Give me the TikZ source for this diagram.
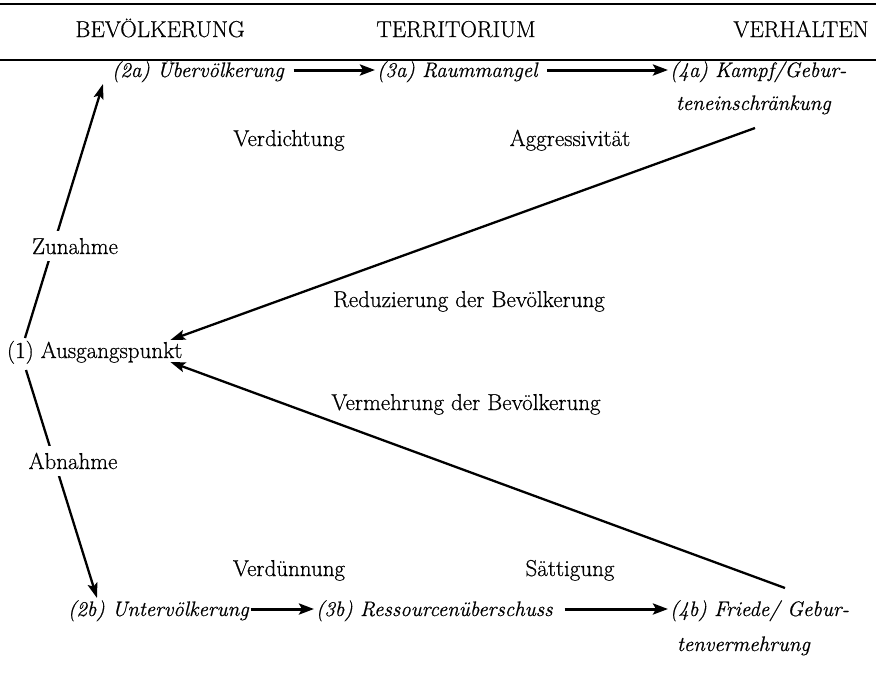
\documentclass[tikz,border=0pt]{standalone}
\usepackage{fontspec}
\setmainfont{Latin Modern Roman}[UprightFeatures={FakeBold=0.6},ItalicFeatures={FakeBold=0.6}]
\usetikzlibrary{arrows.meta}
\begin{document}
\begin{tikzpicture}[x=1pt,y=-1pt,
  every node/.style={inner sep=0pt, outer sep=0pt, font=\fontsize{23}{27}\selectfont},
  lbl/.style={anchor=base},
  blank/.style={anchor=base, fill=white, inner xsep=2pt, inner ysep=7pt},
  lft/.style={anchor=base west},
  itl/.style={anchor=base west, font=\fontsize{21}{25}\selectfont\itshape},
  rule/.style={line width=1.5pt},
  diag/.style={line width=2.3pt, -{Stealth[length=15pt,width=10pt,inset=3pt]}},
  horiz/.style={line width=3pt, -{Stealth[length=15pt,width=11pt,inset=3pt]}}]
\useasboundingbox (0,0) rectangle (876,673);
\draw[rule] (0,4) -- (876,4);
\draw[rule] (0,60) -- (876,60);
% headers
\node[lbl] (hb) at (160,37) {BEVÖLKERUNG};
\node[lbl] (ht) at (456,37) {TERRITORIUM};
\node[lbl] (hv) at (801,37) {VERHALTEN};
% top row
\node[itl] (n2a) at (112,77) {(2a) Übervölkerung};
\node[itl] (n3a) at (377,77) {(3a) Raummangel};
\node[itl] (n4a) at (670,77) {(4a) Kampf/Gebur-};
\node[itl] (n4a2) at (676,110) {teneinschränkung};
% labels
\node[lbl] (ldi) at (289,146) {Verdichtung};
\node[lbl] (lag) at (570,146) {Aggressivität};
\node[lbl] (lre) at (469,307) {Reduzierung der Bevölkerung};
\node[lft] (n1) at (7,358) {(1) Ausgangspunkt};
\node[lbl] (lve) at (466,410) {Vermehrung der Bevölkerung};
\node[lbl] (ldu) at (289,576) {Verdünnung};
\node[lbl] (lsa) at (570,576) {Sättigung};
% bottom row
\node[itl] (n2b) at (68,616) {(2b) Untervölkerung};
\node[itl] (n3b) at (316,616) {(3b) Ressourcenüberschuss};
\node[itl] (n4b) at (670,616) {(4b) Friede/ Gebur-};
\node[itl] (n4b2) at (677,651) {tenvermehrung};
% horizontal arrows
\draw[horiz, shorten <=10pt, shorten >=2pt] ([yshift=7pt]n2a.base east) -- ([yshift=7pt]n3a.base west);
\draw[horiz, shorten <=10pt, shorten >=2pt] ([yshift=7pt]n3a.base east) -- ([yshift=7pt]n4a.base west);
\draw[horiz, shorten <=2pt, shorten >=2pt] ([yshift=7pt]n2b.base east) -- ([yshift=7pt]n3b.base west);
\draw[horiz, shorten <=12pt, shorten >=2pt] ([yshift=7pt]n3b.base east) -- ([yshift=7pt]n4b.base west);
% diagonal arrows
\draw[diag] ([xshift=18pt,yshift=20pt]n1.base west) -- ([xshift=-9pt,yshift=-7pt]n2a.base west);
\draw[diag] ([xshift=19pt,yshift=-12pt]n1.base west) -- ([xshift=29pt,yshift=18pt]n2b.base west);
\draw[diag] ([xshift=79pt,yshift=-18pt]n4a2.base west) -- ([xshift=-12pt,yshift=18pt]n1.base east);
\draw[diag] ([xshift=115pt,yshift=28pt]n4b.base west) -- ([xshift=-12pt,yshift=-4pt]n1.base east);
% labels that interrupt the side lines
\node[blank] (lzu) at (75,254) {Zunahme};
\node[blank] (lab) at (73,469) {Abnahme};
\end{tikzpicture}
\end{document}
